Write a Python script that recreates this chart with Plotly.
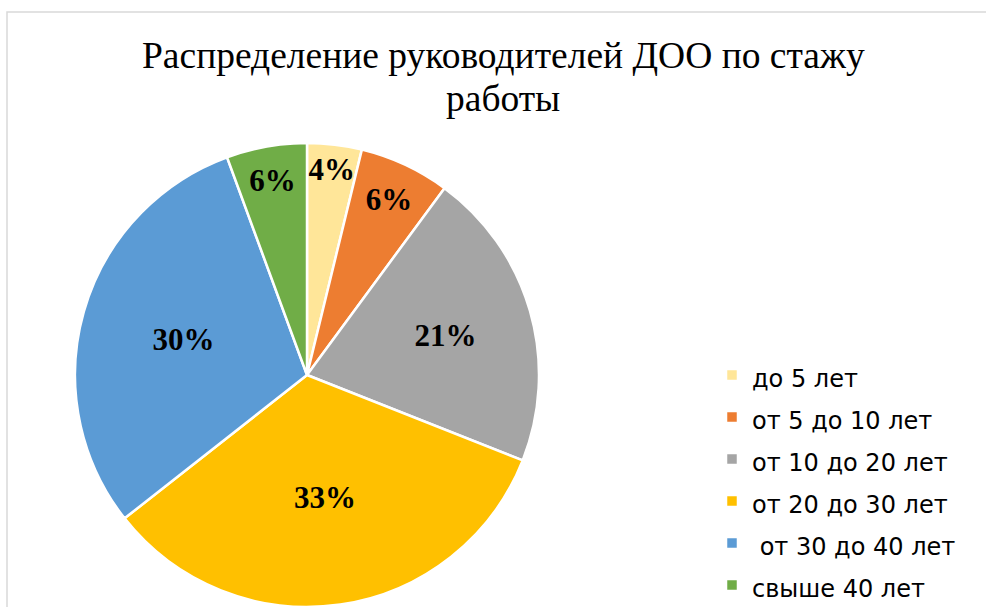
import plotly.graph_objects as go

categories = ["до 5 лет", "от 5 до 10 лет", "от 10 до 20 лет", "от 20 до 30 лет", " от 30 до 40 лет", "свыше 40 лет"]
values = [3.8, 6.3, 20.9, 33.4, 30.0, 5.6]
colors = ["#FFE699", "#ED7D31", "#A5A5A5", "#FFC000", "#5B9BD5", "#70AD47"]
title_lines = ["Распределение руководителей ДОО по стажу", "работы"]

W, H = 986, 607
cx, cy, r = 307, 375, 232

legend_labels = ['<span style="font-size:24px">' + c + '</span>' for c in categories]

fig = go.Figure(go.Pie(
    labels=legend_labels,
    values=values,
    sort=False,
    direction="clockwise",
    rotation=0,
    marker=dict(colors=colors, line=dict(color="white", width=2.5)),
    texttemplate="%{percent:.0%}",
    textposition="inside",
    insidetextorientation="horizontal",
    textfont=dict(family="Liberation Serif", size=31, color="black", weight="bold"),
    domain=dict(x=[(cx - r) / W, (cx + r) / W], y=[(H - cy - r) / H, (H - cy + r) / H]),
    hoverinfo="label+percent",
))

annotations = []
for i, line in enumerate(title_lines):
    annotations.append(dict(
        text=line, xref="paper", yref="paper", x=503 / W, xanchor="center",
        y=1 - (55 + 43 * i) / H, yanchor="middle", showarrow=False,
        font=dict(family="Liberation Serif", size=37.5, color="black"),
    ))

fig.update_layout(
    width=W, height=H,
    margin=dict(l=0, r=0, t=0, b=0, autoexpand=False),
    paper_bgcolor="white",
    plot_bgcolor="white",
    annotations=annotations,
    uniformtext=dict(minsize=31, mode="show"),
    legend=dict(x=712 / W, xanchor="left", y=1 - 349 / H, yanchor="top",
                font=dict(family="DejaVu Sans", size=30, color="black"),
                bgcolor="rgba(0,0,0,0)", tracegroupgap=0),
    shapes=[dict(type="rect", xref="paper", yref="paper",
                 x0=7 / W, x1=1.05, y0=-0.05, y1=1 - 12 / H,
                 line=dict(color="#D9D9D9", width=1.5), layer="below")],
)

fig.write_html("out.html", config={"displayModeBar": False},
               post_script="document.body.style.margin='0';document.body.style.overflow='hidden';")
